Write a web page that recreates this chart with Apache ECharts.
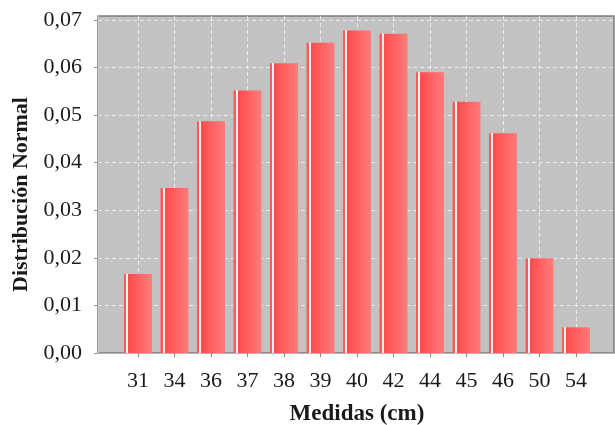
<!DOCTYPE html>
<html>
<head>
<meta charset="utf-8">
<script src="https://cdn.jsdelivr.net/npm/echarts@6/dist/echarts.min.js"></script>
<style>
  html, body { margin: 0; padding: 0; background: #fff; }
  #chart { width: 615px; height: 425px; }
</style>
</head>
<body>
<div id="chart"></div>
<script>
// Measurement classes (cm) and their normal-distribution density
const medidas = ['31', '34', '36', '37', '38', '39', '40', '42', '44', '45', '46', '50', '54'];
const distribucion = [0.0166, 0.0347, 0.0487, 0.0552, 0.0609, 0.0652, 0.0678, 0.0671, 0.0590, 0.0528, 0.0462, 0.0199, 0.0054];
const yTicks = { min: 0, max: 0.07, step: 0.01 };

const FONT = 'Liberation Serif';
const plotBg = '#c2c2c2';
const gridLine = { color: 'rgba(255,255,255,0.65)', type: [4, 3], width: 1 };

// Glossy bar fill: thin edge, white highlight, then red gradient
const barFill = {
  type: 'linear', x: 0, y: 0, x2: 1, y2: 0,
  colorStops: [
    { offset: 0.00, color: '#ff5a5a' },
    { offset: 0.08, color: '#ff5a5a' },
    { offset: 0.085, color: '#fff2f2' },
    { offset: 0.15, color: '#fff2f2' },
    { offset: 0.155, color: '#ff4b4b' },
    { offset: 1.00, color: '#ff7c7c' }
  ]
};

const chart = echarts.init(document.getElementById('chart'), null, { renderer: 'canvas' });

// 0.07 sits a few pixels below the plot's top border
const plotTop = 16, plotBottom = 72, tickTop = 20;
const paddedMax = yTicks.max * (425 - plotBottom - plotTop) / (425 - plotBottom - tickTop);

const fixedGrid = { outerBoundsMode: 'none', containLabel: false };

chart.setOption({
  animation: false,
  backgroundColor: '#ffffff',
  grid: [
    // plot background with border
    Object.assign({ left: 98, right: 1, top: plotTop, bottom: plotBottom, show: true,
      backgroundColor: plotBg, borderColor: '#7c7c7c', borderWidth: 1.5 }, fixedGrid),
    // value scale (horizontal grid lines, y labels)
    Object.assign({ left: 98, right: 1, top: tickTop, bottom: plotBottom }, fixedGrid),
    // category band for the bars
    Object.assign({ left: 138, right: 39, top: plotTop, bottom: plotBottom }, fixedGrid)
  ],
  xAxis: [
    { gridIndex: 0, type: 'value', min: 0, max: 1, offset: 6,
      axisLine: { show: true, lineStyle: { color: '#b4b4b4', width: 1 } },
      axisTick: { show: false }, axisLabel: { show: false }, splitLine: { show: false } },
    { gridIndex: 1, type: 'value', min: 0, max: 1, show: false },
    { gridIndex: 2, type: 'category', data: medidas, boundaryGap: false, offset: 6,
      axisLine: { show: false },
      axisTick: { show: true, length: 4, lineStyle: { color: '#888' } },
      axisLabel: { color: '#1a1a1a', fontFamily: FONT, fontSize: 22, margin: 11 },
      splitLine: { show: true, lineStyle: gridLine },
      name: 'Medidas (cm)', nameLocation: 'middle', nameGap: 44,
      nameTextStyle: { fontFamily: FONT, fontSize: 23, fontWeight: 'bold', color: '#1a1a1a' } }
  ],
  yAxis: [
    { gridIndex: 0, type: 'value', min: 0, max: 1, offset: 8,
      axisLine: { show: true, lineStyle: { color: '#c8c8c8', width: 1 } },
      axisTick: { show: false }, axisLabel: { show: false }, splitLine: { show: false } },
    { gridIndex: 1, type: 'value', min: yTicks.min, max: yTicks.max, interval: yTicks.step, offset: 8,
      axisLine: { show: false },
      axisTick: { show: true, length: 4, lineStyle: { color: '#999' } },
      axisLabel: { color: '#1a1a1a', fontFamily: FONT, fontSize: 22, margin: 8,
        formatter: v => v.toFixed(2).replace('.', ',') },
      splitLine: { show: true, lineStyle: gridLine },
      name: 'Distribución Normal', nameLocation: 'middle', nameRotate: 90, nameGap: 56,
      nameTextStyle: { fontFamily: FONT, fontSize: 22, fontWeight: 'bold', color: '#1a1a1a',
        padding: [0, 16, 0, 0] } },
    { gridIndex: 2, type: 'value', min: 0, max: paddedMax, show: false }
  ],
  series: [
    { type: 'bar', xAxisIndex: 2, yAxisIndex: 2, data: distribucion, barWidth: 28, clip: false,
      itemStyle: { color: barFill } }
  ]
});
</script>
</body>
</html>
